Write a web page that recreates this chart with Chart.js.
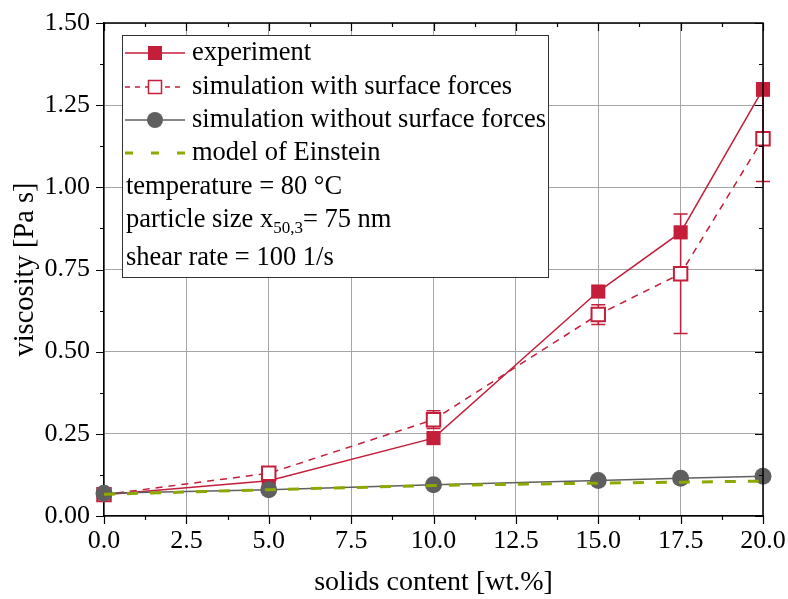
<!DOCTYPE html>
<html>
<head>
<meta charset="utf-8">
<script src="https://cdn.jsdelivr.net/npm/chart.js@4"></script>
<style>
html,body{margin:0;padding:0;background:#fff;}
#wrap{width:788px;height:599px;}
</style>
</head>
<body>
<div id="wrap"><canvas id="myChart" width="788" height="599"></canvas></div>
<script>
// solids content [wt.%]
var solids = [0, 5, 10, 15, 17.5, 20];
var experiment = [0.065, 0.107, 0.237, 0.683, 0.863, 1.299];
var simWith = [0.065, 0.13, 0.293, 0.613, 0.737, 1.148];
var simWithErr = [0, 0, 0.027, 0.03, 0.182, 0.13];
var simWithout = [0.069, 0.080, 0.095, 0.108, 0.115, 0.121];
var einstein = [0.066, 0.080, 0.093, 0.100, 0.103, 0.106];

var xTicks = [0, 2.5, 5, 7.5, 10, 12.5, 15, 17.5, 20];
var yTicks = [0, 0.25, 0.5, 0.75, 1.0, 1.25, 1.5];

var red = '#c41e3a';
var grey = '#5f5f5f';
var olive = '#8fa800';
var serif = '"Liberation Serif", "Times New Roman", serif';

function pts(ys){
    return solids.map(function(x,i){ return {x:x, y:ys[i]}; });
}

var errorBars = {
    id:'errorBars',
    beforeDatasetsDraw:function(chart){
        var c=chart.ctx, xs=chart.scales.x, ys=chart.scales.y;
        c.save();
        c.strokeStyle=red; c.lineWidth=1.5;
        for(var i=0;i<solids.length;i++){
            if(!simWithErr[i]) continue;
            var px=xs.getPixelForValue(solids[i]);
            var y1=ys.getPixelForValue(simWith[i]-simWithErr[i]);
            var y2=ys.getPixelForValue(simWith[i]+simWithErr[i]);
            c.beginPath();
            c.moveTo(px,y1); c.lineTo(px,y2);
            c.moveTo(px-7,y1); c.lineTo(px+7,y1);
            c.moveTo(px-7,y2); c.lineTo(px+7,y2);
            c.stroke();
        }
        c.restore();
    }
};

var frame = {
    id:'frame',
    afterDraw:function(chart){
        var c=chart.ctx, a=chart.chartArea, xs=chart.scales.x, ys=chart.scales.y;
        c.save();
        c.strokeStyle='#000'; c.lineWidth=1.5;
        c.beginPath();
        c.moveTo(a.left,a.top); c.lineTo(a.right,a.top); c.lineTo(a.right,a.bottom);
        c.stroke();
        c.lineWidth=1.2;
        c.beginPath();
        for(var v=0; v<=20.001; v+=1.25){
            var px=Math.round(xs.getPixelForValue(v))+0.5;
            var major = Math.abs(v/2.5-Math.round(v/2.5))<1e-6;
            var L = major?8:4;
            c.moveTo(px,a.bottom); c.lineTo(px,a.bottom+L);
            c.moveTo(px,a.top); c.lineTo(px,a.top+L);
        }
        for(var w=0; w<=1.5001; w+=0.125){
            var py=Math.round(ys.getPixelForValue(w))+0.5;
            var maj = Math.abs(w/0.25-Math.round(w/0.25))<1e-6;
            var M = maj?8:4;
            c.moveTo(a.left,py); c.lineTo(a.left-M,py);
            c.moveTo(a.right,py); c.lineTo(a.right-M,py);
        }
        c.stroke();
        c.restore();
    }
};

var legendBox = {
    id:'legendBox',
    afterDraw:function(chart){
        var c=chart.ctx;
        var bx=122, by=35, bw=426, bh=242;
        c.save();
        c.fillStyle='#fff';
        c.fillRect(bx,by,bw,bh);
        c.strokeStyle='#333'; c.lineWidth=1;
        c.strokeRect(bx+0.5,by+0.5,bw,bh);

        var x0=125, x1=185, mx=155, tx=192;
        var rows=[53,87,120,153];
        c.lineWidth=1.5;
        // experiment
        c.strokeStyle=red; c.setLineDash([]);
        c.beginPath(); c.moveTo(x0,rows[0]); c.lineTo(x1,rows[0]); c.stroke();
        c.fillStyle=red; c.fillRect(mx-7,rows[0]-7,14,14);
        // simulation with
        c.setLineDash([5,5]);
        c.beginPath(); c.moveTo(x0,rows[1]); c.lineTo(x1,rows[1]); c.stroke();
        c.setLineDash([]);
        c.fillStyle='#fff'; c.fillRect(mx-7,rows[1]-7,14,14);
        c.strokeRect(mx-6.5,rows[1]-6.5,13,13);
        // simulation without
        c.strokeStyle=grey;
        c.beginPath(); c.moveTo(x0,rows[2]); c.lineTo(x1,rows[2]); c.stroke();
        c.fillStyle=grey; c.beginPath(); c.arc(mx,rows[2],8,0,Math.PI*2); c.fill();
        // einstein
        c.strokeStyle=olive; c.lineWidth=3; c.setLineDash([8,18]);
        c.beginPath(); c.moveTo(x0,rows[3]); c.lineTo(x1,rows[3]); c.stroke();
        c.setLineDash([]);

        var fs='26.5px '+serif;
        c.fillStyle='#000';
        c.font=fs;
        c.textBaseline='middle';
        c.textAlign='left';
        c.fillText('experiment',tx,rows[0]);
        c.fillText('simulation with surface forces',tx,rows[1]);
        c.fillText('simulation without surface forces',tx,rows[2]);
        c.fillText('model of Einstein',tx,rows[3]);
        c.fillText('temperature = 80 \u00B0C',126,187);
        var s1='particle size x';
        c.fillText(s1,126,220);
        var wd=c.measureText(s1).width;
        c.font='17px '+serif;
        c.fillText('50,3',126+wd,229);
        var wd2=c.measureText('50,3').width;
        c.font=fs;
        c.fillText('= 75 nm',126+wd+wd2,220);
        c.fillText('shear rate = 100 1/s',126,258);
        c.restore();
    }
};

var ctx = document.getElementById('myChart').getContext('2d');
var chart = new Chart(ctx, {
    type:'line',
    data:{
        datasets:[{
            label:'experiment',
            data:pts(experiment),
            borderColor:red, backgroundColor:red, borderWidth:1.5,
            pointStyle:'rect', pointRadius:10, pointBorderWidth:0,
            pointBackgroundColor:red, order:4, clip:false
        },{
            label:'simulation with surface forces',
            data:pts(simWith),
            borderColor:red, backgroundColor:'#fff', borderWidth:1.5, borderDash:[7,6],
            pointStyle:'rect', pointRadius:9.5, pointBorderWidth:2,
            pointBackgroundColor:'#fff', pointBorderColor:red, order:3, clip:false
        },{
            label:'simulation without surface forces',
            data:pts(simWithout),
            borderColor:grey, backgroundColor:grey, borderWidth:1.5,
            pointStyle:'circle', pointRadius:8.5, pointBorderWidth:0,
            pointBackgroundColor:grey, order:2, clip:false
        },{
            label:'model of Einstein',
            data:pts(einstein),
            borderColor:olive, borderWidth:3, borderDash:[11,12],
            pointRadius:0, order:1, clip:false
        }]
    },
    options:{
        responsive:false,
        animation:false,
        layout:{padding:{left:0,right:25,top:23,bottom:0}},
        plugins:{legend:{display:false},tooltip:{enabled:false}},
        scales:{
            x:{
                type:'linear', min:0, max:20,
                afterBuildTicks:function(s){ s.ticks=xTicks.map(function(v){return {value:v};}); },
                afterFit:function(s){ s.height=83; s.paddingLeft=0; s.paddingRight=0; },
                ticks:{
                    callback:function(v){ return v.toFixed(1); },
                    color:'#000', font:{family:serif,size:26}, padding:10, maxRotation:0, autoSkip:false
                },
                grid:{color:'#a6a6a6', lineWidth:1, drawTicks:false},
                border:{display:true, color:'#000', width:1.5},
                title:{display:true, text:'solids content [wt.%]', color:'#000',
                    font:{family:serif,size:28,lineHeight:1}, padding:{top:0,bottom:2}}
            },
            y:{
                type:'linear', min:0, max:1.5,
                afterBuildTicks:function(s){ s.ticks=yTicks.map(function(v){return {value:v};}); },
                afterFit:function(s){ s.width=104; s.paddingTop=0; s.paddingBottom=0; },
                ticks:{
                    callback:function(v){ return v.toFixed(2); },
                    color:'#000', font:{family:serif,size:26}, padding:14
                },
                grid:{color:'#a6a6a6', lineWidth:1, drawTicks:false},
                border:{display:true, color:'#000', width:1.5},
                title:{display:true, text:'viscosity [Pa s]', color:'#000',
                    font:{family:serif,size:28.5,lineHeight:1}, padding:{top:11,bottom:0}}
            }
        }
    },
    plugins:[errorBars, frame, legendBox]
});
</script>
</body>
</html>
